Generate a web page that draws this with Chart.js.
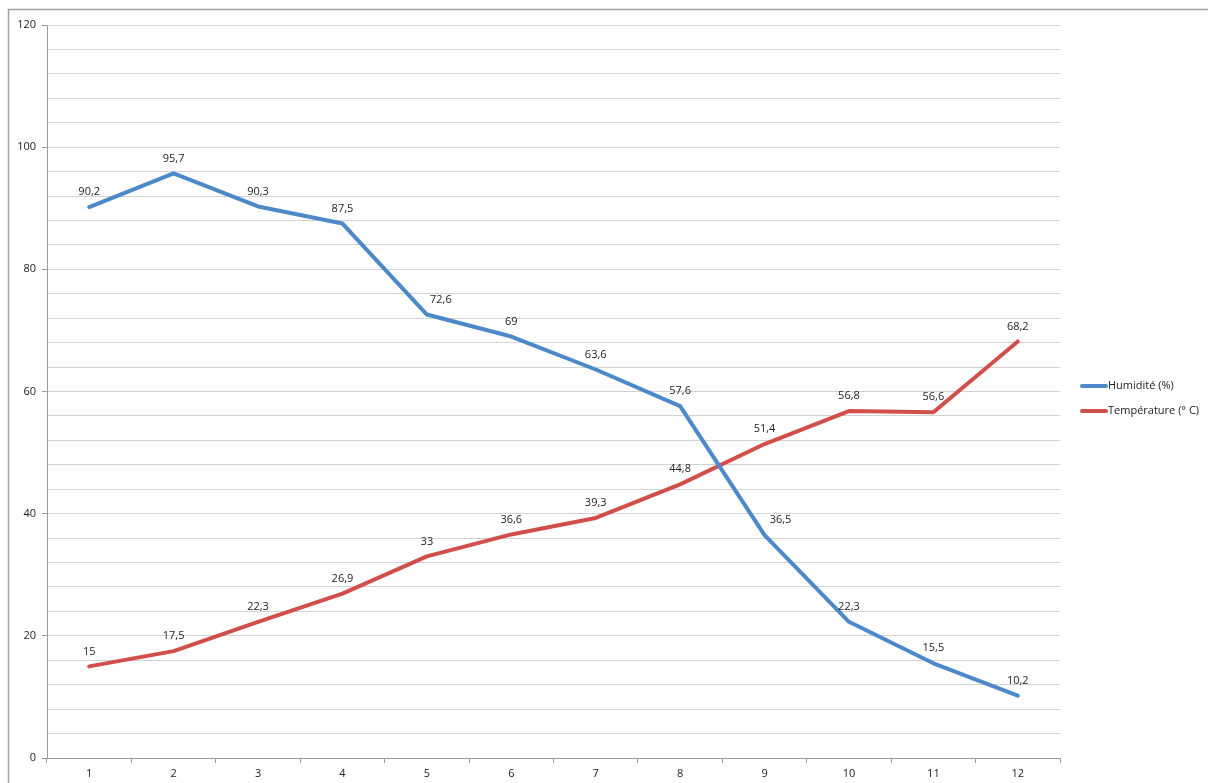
<!DOCTYPE html>
<html>
<head>
<meta charset="utf-8">
<script src="https://cdn.jsdelivr.net/npm/chart.js@4/dist/chart.umd.min.js"></script>
<style>
  html, body { margin: 0; padding: 0; background: #fff; }
  #wrap { width: 1208px; height: 783px; }
</style>
</head>
<body>
<div id="wrap"><canvas id="graphique"></canvas></div>
<script>
// Données
const mois = ['1', '2', '3', '4', '5', '6', '7', '8', '9', '10', '11', '12'];
const humidite = [90.2, 95.7, 90.3, 87.5, 72.6, 69, 63.6, 57.6, 36.5, 22.3, 15.5, 10.2];
const temperature = [15, 17.5, 22.3, 26.9, 33, 36.6, 39.3, 44.8, 51.4, 56.8, 56.6, 68.2];
const nomsSeries = ['Humidité (%)', 'Température (° C)'];
const couleurs = ['#4d88c8', '#d14f4b'];

const fmt = v => String(v).replace('.', ',');

// cadre gris autour du graphique
const cadre = {
    id: 'cadre',
    afterDraw(chart) {
        const ctx = chart.ctx;
        ctx.save();
        ctx.strokeStyle = '#a3a3a3';
        ctx.lineWidth = 1.5;
        ctx.strokeRect(8.5, 9.5, 1300, 900);
        ctx.restore();
    }
};

// étiquettes de valeurs au-dessus des points
// (quelques étiquettes décalées à droite, comme dans Excel)
const decalages = { 0: { 4: 14, 8: 16 } };
const etiquettes = {
    id: 'etiquettes',
    afterDatasetsDraw(chart) {
        const ctx = chart.ctx;
        ctx.save();
        ctx.font = '11px "Open Sans", "Liberation Sans", sans-serif';
        ctx.fillStyle = '#222';
        ctx.textAlign = 'center';
        ctx.textBaseline = 'middle';
        chart.data.datasets.forEach((ds, i) => {
            chart.getDatasetMeta(i).data.forEach((pt, j) => {
                const dx = (decalages[i] && decalages[i][j]) || 0;
                ctx.fillText(fmt(ds.data[j]), pt.x + dx, pt.y - 15);
            });
        });
        ctx.restore();
    }
};

// légende à droite
const legende = {
    id: 'legende',
    afterDraw(chart) {
        const ctx = chart.ctx;
        ctx.save();
        ctx.font = '11px "Open Sans", "Liberation Sans", sans-serif';
        ctx.textBaseline = 'middle';
        ctx.lineCap = 'round';
        chart.data.datasets.forEach((ds, i) => {
            const y = 386 + i * 25;
            ctx.strokeStyle = ds.borderColor;
            ctx.lineWidth = 4;
            ctx.beginPath();
            ctx.moveTo(1082, y);
            ctx.lineTo(1106, y);
            ctx.stroke();
            ctx.fillStyle = '#222';
            ctx.fillText(ds.label, 1108, y);
        });
        ctx.restore();
    }
};

new Chart(document.getElementById('graphique'), {
    type: 'line',
    data: {
        labels: mois,
        datasets: [
            { label: nomsSeries[0], data: humidite, borderColor: couleurs[0], backgroundColor: couleurs[0] },
            { label: nomsSeries[1], data: temperature, borderColor: couleurs[1], backgroundColor: couleurs[1] }
        ]
    },
    options: {
        responsive: true,
        maintainAspectRatio: false,
        animation: false,
        elements: {
            line: { borderWidth: 4, tension: 0, borderJoinStyle: 'round', borderCapStyle: 'round' },
            point: { radius: 0, hoverRadius: 0 }
        },
        layout: { padding: { left: 0, top: 25, right: 148, bottom: 0 } },
        plugins: { legend: { display: false }, tooltip: { enabled: false } },
        scales: {
            x: {
                offset: true,
                grid: { offset: true, drawOnChartArea: false, drawTicks: true, tickLength: 5, color: '#9c9c9c' },
                border: { color: '#9c9c9c', width: 1 },
                ticks: { color: '#222', font: { size: 11, family: '"Open Sans", "Liberation Sans", sans-serif' }, padding: 4, maxRotation: 0 },
                afterFit: s => { s.height = 25; }
            },
            y: {
                min: 0,
                max: 120,
                ticks: {
                    stepSize: 4,
                    autoSkip: false,
                    color: '#222',
                    padding: 6,
                    font: { size: 11, family: '"Open Sans", "Liberation Sans", sans-serif' },
                    callback: v => (v % 20 === 0 ? v : '')
                },
                grid: {
                    color: '#d2d2d2',
                    tickLength: 5,
                    tickColor: c => (c.tick && c.tick.value % 20 === 0 ? '#9c9c9c' : 'rgba(0,0,0,0)')
                },
                border: { color: '#9c9c9c', width: 1 },
                afterFit: s => { s.width = 47; }
            }
        }
    },
    plugins: [cadre, etiquettes, legende]
});
</script>
</body>
</html>
